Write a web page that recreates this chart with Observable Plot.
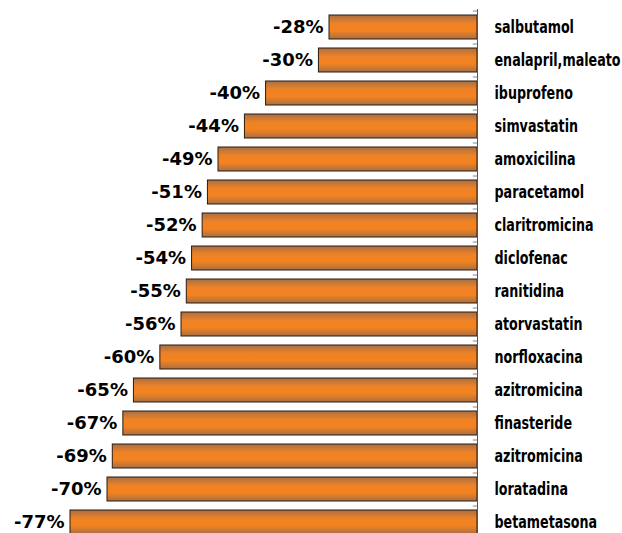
<!DOCTYPE html>
<html>
<head>
<meta charset="utf-8">
<script src="https://cdn.jsdelivr.net/npm/d3@7"></script>
<script src="https://cdn.jsdelivr.net/npm/@observablehq/plot@0.6"></script>
<style>
  html, body { margin: 0; padding: 0; background: #fff; }
</style>
</head>
<body>
<div id="chart"></div>
<script>
// Price reductions by active ingredient (percent change)
const drugs = [
  "salbutamol", "enalapril,maleato", "ibuprofeno", "simvastatin", "amoxicilina",
  "paracetamol", "claritromicina", "diclofenac", "ranitidina", "atorvastatin",
  "norfloxacina", "azitromicina ", "finasteride", "azitromicina", "loratadina", "betametasona"
];
const changes = [-28, -30, -40, -44, -49, -51, -52, -54, -55, -56, -60, -65, -67, -69, -70, -77];

const rows = drugs.map((name, i) => ({name, value: changes[i]}));

// Shaded fill for the bars: darker rim at top and bottom, bright orange through the middle
const gradient = () => {
  const defs = d3.create("svg:defs");
  const g = defs.append("linearGradient")
    .attr("id", "barFill").attr("x1", 0).attr("y1", 0).attr("x2", 0).attr("y2", 1);
  g.append("stop").attr("offset", "0%").attr("stop-color", "#a86f45");
  g.append("stop").attr("offset", "35%").attr("stop-color", "#ee8226");
  g.append("stop").attr("offset", "65%").attr("stop-color", "#f4831f");
  g.append("stop").attr("offset", "100%").attr("stop-color", "#a86f45");
  return defs.node();
};

const chart = Plot.plot({
  width: 622,
  height: 533,
  marginLeft: 70,
  marginRight: 145,
  marginTop: 9,
  marginBottom: 0,
  x: {domain: [-77, 0], axis: null},
  y: {domain: drugs, range: [10.5, 538.5], paddingInner: 0.26, paddingOuter: 0.13, axis: null},
  marks: [
    gradient,
    Plot.barX(rows, {
      y: "name", x1: 0, x2: "value",
      fill: "url(#barFill)", stroke: "#2a1a0e", strokeWidth: 1
    }),
    // zero baseline with short ticks between the categories
    Plot.ruleX([0], {stroke: "#555"}),
    Plot.ruleY(drugs, {y: d => d, dy: -16.5, x1: -0.8, x2: 0, stroke: "#888"}),
    Plot.text(rows, {
      y: "name", x: "value", text: d => `${d.value}%`,
      textAnchor: "end", dx: -6, fontSize: 18, fontWeight: "bold",
      fontFamily: "DejaVu Sans", fill: "#000"
    }),
    Plot.text(rows, {
      y: "name", x: 0, text: d => d.name.trim(),
      textAnchor: "start", dx: 17, fontSize: 17, fontWeight: "bold",
      fontFamily: "DejaVu Sans Condensed", fill: "#000"
    })
  ]
});

// Narrow the drug names horizontally so they fit the right margin
const names = new Set(drugs.map(d => d.trim()));
d3.select(chart).selectAll("text")
  .filter(function () { return names.has(this.textContent); })
  .each(function () {
    const t = d3.select(this);
    const x = parseFloat(t.attr("x"));
    const prev = t.attr("transform") || "";
    const shift = isFinite(x) ? ` translate(${x},0)` : "";
    if (isFinite(x)) t.attr("x", null);
    t.attr("transform", `${prev}${shift} scale(0.83,1)`);
  });

document.getElementById("chart").append(chart);
</script>
</body>
</html>
